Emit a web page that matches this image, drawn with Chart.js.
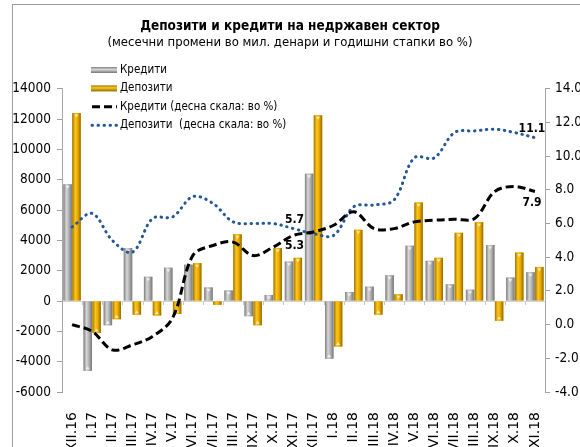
<!DOCTYPE html>
<html>
<head>
<meta charset="utf-8">
<script src="https://cdn.jsdelivr.net/npm/chart.js@4.4.1/dist/chart.umd.min.js"></script>
<style>
    html, body { margin: 0; padding: 0; background: #fff; overflow: hidden; }
    #wrap { position: relative; width: 580px; height: 447px; }
    #frame { position: absolute; left: 12px; top: 4px; width: 640px; height: 520px;
             border-left: 1px solid #9c9c9c; border-top: 1px solid #9c9c9c; }
    #chart { position: absolute; left: 0; top: 0; }
</style>
</head>
<body>
<div id="wrap">
    <div id="frame"></div>
    <canvas id="chart" width="580" height="447"></canvas>
</div>
<script>
// месеци
const months = ['XII.16', 'I.17', 'II.17', 'III.17', 'IV.17', 'V.17', 'VI.17', 'VII.17', 'VIII.17',
    'IX.17', 'X.17', 'XI.17', 'XII.17', 'I.18', 'II.18', 'III.18', 'IV.18', 'V.18', 'VI.18',
    'VII.18', 'VIII.18', 'IX.18', 'X.18', 'XI.18'];

// месечни промени, мил. денари
const creditFlows = [7700, -4600, -1600, 3500, 1600, 2200, 2400, 900, 700, -1000, 400, 2600,
    8400, -3800, 600, 950, 1700, 3650, 2650, 1100, 750, 3700, 1550, 1900];
const depositFlows = [12400, -2100, -1200, -900, -950, -850, 2500, -250, 4400, -1600, 3500, 2850,
    12250, -3000, 4700, -900, 450, 6500, 2850, 4500, 5200, -1300, 3200, 2250];

// годишни стапки, %
const creditGrowth = [0.0, -0.4, -1.5, -1.2, -0.7, 0.4, 4.1, 4.7, 4.9, 4.1, 4.6, 5.3,
    5.5, 5.9, 6.7, 5.7, 5.7, 6.1, 6.2, 6.25, 6.3, 7.9, 8.2, 7.9];
const depositGrowth = [5.8, 6.6, 5.0, 4.3, 6.3, 6.4, 7.6, 7.2, 6.1, 6.0, 6.0, 5.7,
    5.4, 5.3, 7.0, 7.1, 7.4, 9.9, 9.9, 11.4, 11.5, 11.6, 11.4, 11.1];

// означени точки
const labeledIdx = [11, 23];

const NARROW = "'Liberation Sans Narrow', 'Arial Narrow', 'DejaVu Sans Condensed', sans-serif";

const barShades = {
    gray: ['#7d7d7d', '#d6d6d6', '#b0b0b0', '#777777'],
    gold: ['#9c7400', '#ffc61a', '#e9a800', '#8f6a00']
};

// 3Д изглед на столбовите
const barGradient = {
    id: 'barGradient',
    afterDatasetDraw(chart, args) {
        const meta = args.meta;
        if (meta.type !== 'bar') return;
        const shades = barShades[chart.data.datasets[args.index].shade];
        const c = chart.ctx;
        c.save();
        meta.data.forEach(el => {
            const p = el.getProps(['x', 'y', 'base', 'width'], true);
            const l = p.x - p.width / 2, r = p.x + p.width / 2;
            const g = c.createLinearGradient(l, 0, r, 0);
            g.addColorStop(0, shades[0]);
            g.addColorStop(0.35, shades[1]);
            g.addColorStop(0.65, shades[2]);
            g.addColorStop(1, shades[3]);
            c.fillStyle = g;
            const top = Math.min(p.y, p.base), h = Math.abs(p.base - p.y);
            c.fillRect(l, top, p.width, h);
            // мал светол триаголник на врвот
            const dir = p.y < p.base ? 1 : -1;
            if (h > 5) {
                c.fillStyle = 'rgba(255,255,255,0.7)';
                c.beginPath();
                c.moveTo(p.x - 2, p.y + dir * 1.5);
                c.lineTo(p.x + 2, p.y + dir * 1.5);
                c.lineTo(p.x, p.y + dir * 4.5);
                c.closePath();
                c.fill();
            }
        });
        c.restore();
    }
};

// цртички на категориската оска на нула
const zeroTicks = {
    id: 'zeroTicks',
    beforeDatasetsDraw(chart) {
        const x = chart.scales.x, y0 = chart.scales.y.getPixelForValue(0);
        const c = chart.ctx;
        c.save();
        c.strokeStyle = '#c8c8c8';
        c.lineWidth = 1;
        c.beginPath();
        for (let i = 1; i < months.length; i++) {
            const px = Math.round((x.getPixelForValue(i - 1) + x.getPixelForValue(i)) / 2) + 0.5;
            c.moveTo(px, y0);
            c.lineTo(px, y0 + 4);
        }
        c.stroke();
        c.restore();
    }
};

// легенда внатре во графикот
const boxLegend = {
    id: 'boxLegend',
    afterDraw(chart, args, opts) {
        const c = chart.ctx;
        c.save();
        c.font = opts.font;
        c.textBaseline = 'middle';
        chart.data.datasets.forEach((ds, i) => {
            const y = opts.top + i * opts.gap;
            const x0 = opts.left, x1 = opts.left + 26;
            if (ds.type === 'bar') {
                const s = barShades[ds.shade];
                const g = c.createLinearGradient(0, y - 3, 0, y + 3);
                g.addColorStop(0, s[0]);
                g.addColorStop(0.4, s[1]);
                g.addColorStop(1, s[3]);
                c.fillStyle = g;
                c.fillRect(x0, y - 3, 26, 6);
            } else {
                c.strokeStyle = ds.borderColor;
                c.lineWidth = ds.borderWidth;
                c.lineCap = ds.borderCapStyle || 'butt';
                c.setLineDash(ds.borderDash || []);
                c.beginPath();
                c.moveTo(x0 + 1, y);
                c.lineTo(x1, y);
                c.stroke();
                c.setLineDash([]);
            }
            c.fillStyle = '#000';
            c.fillText(ds.label, x1 + 3, y);
        });
        c.restore();
    }
};

// ознаки на вредностите
const pointLabels = {
    id: 'pointLabels',
    afterDatasetsDraw(chart) {
        const c = chart.ctx;
        c.save();
        c.font = "bold 12px " + NARROW;
        c.fillStyle = '#000';
        c.textAlign = 'center';
        c.textBaseline = 'middle';
        chart.data.datasets.forEach((ds, i) => {
            if (!ds.labelOffset) return;
            const meta = chart.getDatasetMeta(i);
            labeledIdx.forEach(k => {
                const el = meta.data[k];
                const shift = k === months.length - 1 ? -3 : 1;
                c.fillText(ds.data[k].toFixed(1), el.x + shift, el.y + ds.labelOffset);
            });
        });
        c.restore();
    }
};

const tickFont = { family: NARROW, size: 13.5 };

new Chart(document.getElementById('chart'), {
    data: {
        labels: months,
        datasets: [{
            type: 'bar',
            label: 'Кредити',
            data: creditFlows,
            shade: 'gray',
            backgroundColor: '#a6a6a6',
            yAxisID: 'y',
            order: 2,
            barPercentage: 0.95,
            categoryPercentage: 0.88
        }, {
            type: 'bar',
            label: 'Депозити',
            data: depositFlows,
            shade: 'gold',
            backgroundColor: '#e9a800',
            yAxisID: 'y',
            order: 2,
            barPercentage: 0.95,
            categoryPercentage: 0.88
        }, {
            type: 'line',
            label: 'Кредити (десна скала: во %)',
            data: creditGrowth,
            borderColor: '#000000',
            borderWidth: 3,
            borderDash: [8, 4],
            pointRadius: 0,
            tension: 0.35,
            fill: false,
            yAxisID: 'y1',
            order: 1,
            labelOffset: 11
        }, {
            type: 'line',
            label: 'Депозити  (десна скала: во %)',
            data: depositGrowth,
            borderColor: '#23579a',
            borderWidth: 3,
            borderDash: [0.5, 5.5],
            borderCapStyle: 'round',
            pointRadius: 0,
            tension: 0.35,
            fill: false,
            yAxisID: 'y1',
            order: 1,
            labelOffset: -9
        }]
    },
    options: {
        responsive: false,
        devicePixelRatio: 1,
        animation: false,
        layout: { padding: { left: 0, right: 0, top: 0, bottom: 0 } },
        plugins: {
            legend: { display: false },
            tooltip: { enabled: false },
            title: {
                display: true,
                text: 'Депозити и кредити на недржавен сектор',
                color: '#000',
                font: { family: NARROW, size: 13.5, weight: 'bold' },
                padding: { top: 18, bottom: 0 }
            },
            subtitle: {
                display: true,
                text: '(месечни промени во мил. денари и годишни стапки во %)',
                color: '#000',
                font: { family: NARROW, size: 13 },
                padding: { top: 1, bottom: 38 }
            },
            boxLegend: { left: 91, top: 70, gap: 18.4, font: "11.5px " + NARROW }
        },
        scales: {
            x: {
                offset: true,
                grid: { display: false },
                border: { display: false },
                ticks: {
                    color: '#000',
                    font: { family: "'DejaVu Sans', sans-serif", size: 14 },
                    minRotation: 90,
                    maxRotation: 90,
                    autoSkip: false,
                    padding: 12
                },
                afterFit: s => { s.height = 55; }
            },
            y: {
                position: 'left',
                min: -6000,
                max: 14000,
                ticks: {
                    stepSize: 2000,
                    color: '#000',
                    font: tickFont,
                    padding: 6,
                    callback: v => String(v)
                },
                grid: {
                    color: ctx => ctx.tick && ctx.tick.value === 0 ? '#d4d4d4' : 'rgba(0,0,0,0)',
                    tickColor: '#a0a0a0',
                    tickLength: 5
                },
                border: { display: true, color: '#a6a6a6' },
                afterFit: s => { s.width = 62; }
            },
            y1: {
                position: 'right',
                min: -4,
                max: 14,
                ticks: {
                    stepSize: 2,
                    color: '#000',
                    font: tickFont,
                    padding: 5,
                    callback: v => v.toFixed(1)
                },
                grid: {
                    drawOnChartArea: false,
                    tickColor: '#a0a0a0',
                    tickLength: 5
                },
                border: { display: true, color: '#a6a6a6' },
                afterFit: s => { s.width = 35; }
            }
        }
    },
    plugins: [zeroTicks, barGradient, pointLabels, boxLegend]
});
</script>
</body>
</html>
